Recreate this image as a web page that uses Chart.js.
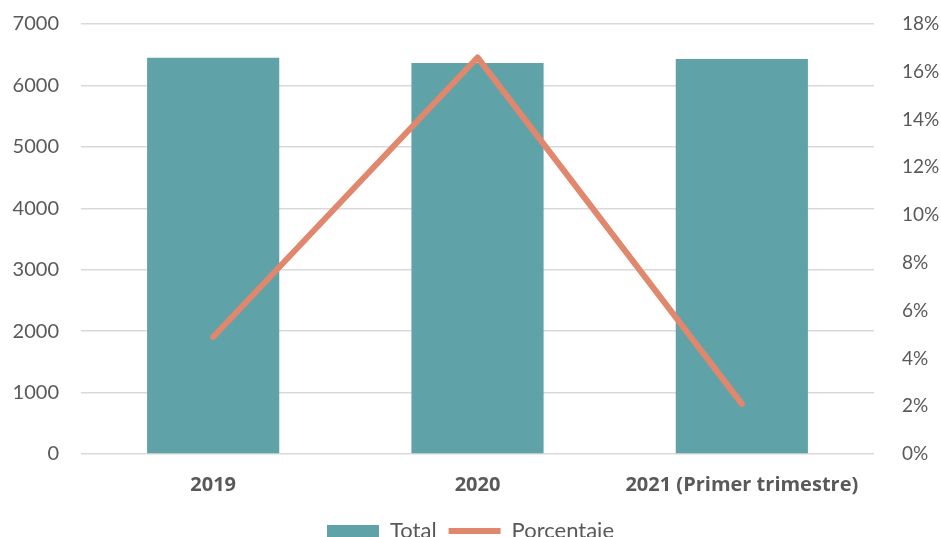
<!DOCTYPE html>
<html lang="es">
<head>
  <meta charset="UTF-8" />
  <title>Total y porcentaje</title>
  <script src="https://cdn.jsdelivr.net/npm/chart.js"></script>
  <style>
    html, body { margin: 0; padding: 0; background: #ffffff; }
    #wrap { width: 941px; height: 537px; }
  </style>
</head>
<body>
  <div id="wrap"><canvas id="comboChart" width="941" height="537"></canvas></div>
  <script>
    const years = ['2019', '2020', '2021 (Primer trimestre)'];
    const totals = [6450, 6365, 6430];
    const percents = [4.9, 16.6, 2.1];
    const leftTicks = [0, 1000, 2000, 3000, 4000, 5000, 6000, 7000];
    const rightTicks = [0, 2, 4, 6, 8, 10, 12, 14, 16, 18];

    const textColor = '#595959';
    const fontFamily = "Lato, 'Open Sans', sans-serif";

    // fixed axis widths and a fixed top gap for the plot area
    function fitAxis(width) {
      return axis => {
        axis.width = width;
        axis.paddingTop = 24;
        axis.paddingBottom = 0;
      };
    }

    new Chart(document.getElementById('comboChart'), {
      data: {
        labels: years,
        datasets: [
          {
            type: 'line',
            label: 'Porcentaje',
            data: percents,
            yAxisID: 'y1',
            borderColor: '#e0876e',
            backgroundColor: '#e0876e',
            borderWidth: 6,
            borderCapStyle: 'round',
            borderJoinStyle: 'round',
            pointRadius: 0,
            pointStyle: 'line',
            tension: 0,
            order: 0
          },
          {
            type: 'bar',
            label: 'Total',
            data: totals,
            yAxisID: 'y',
            backgroundColor: '#5fa3a8',
            pointStyle: 'rect',
            barPercentage: 0.5,
            categoryPercentage: 1,
            order: 1
          }
        ]
      },
      options: {
        responsive: false,
        animation: false,
        layout: { padding: { top: 0, left: 0, right: 0, bottom: -15 } },
        plugins: {
          tooltip: { enabled: false },
          legend: {
            position: 'bottom',
            reverse: true,
            labels: {
              usePointStyle: true,
              pointStyleWidth: 52,
              boxHeight: 12,
              color: textColor,
              padding: 12,
              font: { family: fontFamily, size: 22 }
            }
          }
        },
        scales: {
          x: {
            grid: { display: false },
            border: { display: false },
            ticks: {
              color: textColor,
              padding: 11,
              font: { family: "'Open Sans', Lato, sans-serif", size: 20, weight: 'bold' }
            }
          },
          y: {
            position: 'left',
            min: 0,
            max: 7000,
            afterBuildTicks: axis => { axis.ticks = leftTicks.map(v => ({ value: v })); },
            afterFit: fitAxis(81),
            grid: { color: '#d9d9d9', lineWidth: 1.5, drawTicks: false },
            border: { display: false },
            ticks: {
              color: textColor,
              padding: 22,
              font: { family: fontFamily, size: 20 },
              callback: v => String(v)
            }
          },
          y1: {
            position: 'right',
            min: 0,
            max: 18,
            afterBuildTicks: axis => { axis.ticks = rightTicks.map(v => ({ value: v })); },
            afterFit: fitAxis(67),
            grid: { display: false },
            border: { display: false },
            ticks: {
              color: textColor,
              padding: 20,
              font: { family: fontFamily, size: 19 },
              callback: v => v + '%'
            }
          }
        }
      }
    });
  </script>
</body>
</html>
